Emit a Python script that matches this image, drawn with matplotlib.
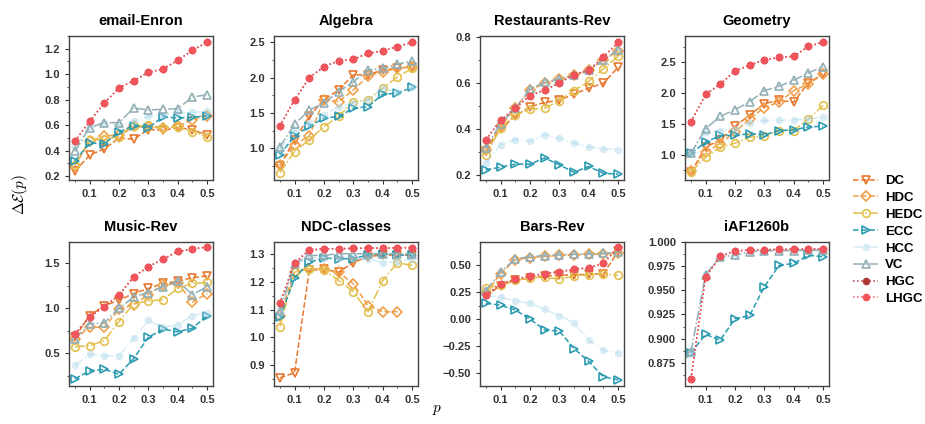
import numpy as np
import matplotlib
matplotlib.use("Agg")
import matplotlib.pyplot as plt
from matplotlib.ticker import AutoMinorLocator, MultipleLocator

plt.rcParams['font.family'] = ['Liberation Sans', 'DejaVu Sans']
plt.rcParams['mathtext.fontset'] = 'cm'

p = [0.05, 0.1, 0.15, 0.2, 0.25, 0.3, 0.35, 0.4, 0.45, 0.5]
nan = np.nan

methods = ['DC', 'HDC', 'HEDC', 'ECC', 'HCC', 'VC', 'HGC', 'LHGC']
titles = ['email-Enron', 'Algebra', 'Restaurants-Rev', 'Geometry',
          'Music-Rev', 'NDC-classes', 'Bars-Rev', 'iAF1260b']

# values, one dict per network
enron = {
    'DC':   [0.24, 0.365, 0.414, 0.50, 0.49, 0.566, 0.56, 0.58, 0.566, 0.52],
    'HDC':  [0.28, 0.474, 0.513, 0.526, 0.59, 0.584, 0.58, 0.59, 0.644, 0.675],
    'HEDC': [0.29, 0.48, 0.49, 0.51, 0.59, 0.60, 0.58, 0.586, 0.55, 0.51],
    'ECC':  [0.32, 0.46, 0.455, 0.547, 0.597, 0.58, 0.665, 0.657, 0.662, 0.675],
    'HCC':  [0.435, 0.59, 0.62, 0.60, 0.63, 0.67, 0.68, 0.70, 0.70, 0.71],
    'VC':   [0.396, 0.58, 0.62, 0.62, 0.735, 0.72, 0.725, 0.73, 0.82, 0.84],
    'LHGC': [0.474, 0.63, 0.774, 0.892, 0.949, 1.015, 1.041, 1.109, 1.187, 1.252],
}
algebra = {
    'DC':   [0.755, 1.12, 1.45, 1.69, 1.825, 2.04, 2.04, 2.11, 2.13, 2.156],
    'HDC':  [0.764, 1.05, 1.175, 1.684, 1.66, 1.825, 2.02, 2.085, 2.13, 2.156],
    'HEDC': [0.655, 0.953, 1.12, 1.306, 1.45, 1.66, 1.684, 1.85, 2.01, 2.13],
    'ECC':  [0.906, 1.175, 1.31, 1.425, 1.45, 1.566, 1.59, 1.764, 1.78, 1.863],
    'HCC':  [0.976, 1.26, 1.354, 1.47, 1.59, 1.64, 1.684, 1.85, 1.80, 1.863],
    'VC':   [1.02, 1.34, 1.54, 1.64, 1.80, 1.94, 2.11, 2.13, 2.19, 2.24],
    'LHGC': [1.316, 1.684, 2.0, 2.156, 2.236, 2.26, 2.344, 2.38, 2.44, 2.5],
}
restaurants = {
    'DC':   [0.306, 0.40, 0.457, 0.497, 0.516, 0.526, 0.553, 0.579, 0.60, 0.67],
    'HDC':  [0.31, 0.413, 0.491, 0.571, 0.60, 0.62, 0.634, 0.656, 0.70, 0.74],
    'HEDC': [0.285, 0.406, 0.462, 0.487, 0.491, 0.524, 0.568, 0.609, 0.663, 0.718],
    'ECC':  [0.222, 0.234, 0.247, 0.247, 0.274, 0.244, 0.212, 0.237, 0.207, 0.204],
    'HCC':  [0.251, 0.332, 0.354, 0.347, 0.376, 0.359, 0.34, 0.322, 0.315, 0.31],
    'VC':   [0.318, 0.424, 0.491, 0.575, 0.604, 0.619, 0.634, 0.659, 0.70, 0.747],
    'LHGC': [0.354, 0.438, 0.491, 0.546, 0.571, 0.60, 0.638, 0.656, 0.715, 0.778],
}
geometry = {
    'DC':   [0.71, 1.12, 1.24, 1.46, 1.64, 1.83, 1.88, 1.856, 2.17, 2.31],
    'HDC':  [0.727, 1.04, 1.175, 1.366, 1.58, 1.764, 1.856, 2.04, 2.146, 2.31],
    'HEDC': [0.71, 0.956, 1.12, 1.185, 1.284, 1.295, 1.39, 1.39, 1.58, 1.80],
    'ECC':  [1.02, 1.20, 1.31, 1.31, 1.34, 1.32, 1.39, 1.40, 1.45, 1.46],
    'HCC':  [1.04, 1.366, 1.39, 1.42, 1.51, 1.556, 1.556, 1.567, 1.58, 1.61],
    'VC':   [1.02, 1.42, 1.62, 1.73, 1.856, 2.04, 2.11, 2.21, 2.33, 2.43],
    'LHGC': [1.53, 1.98, 2.146, 2.36, 2.456, 2.54, 2.58, 2.60, 2.76, 2.83],
}
music = {
    'DC':   [0.68, 0.92, 1.03, 1.09, 1.164, 1.22, 1.276, 1.30, 1.34, 1.36],
    'HDC':  [0.66, 0.79, 0.79, 0.99, 1.04, 1.153, 1.257, 1.276, 1.07, 1.164],
    'HEDC': [0.575, 0.586, 0.642, 0.854, 1.05, 1.08, 1.097, 1.22, 1.276, 1.287],
    'ECC':  [0.22, 0.306, 0.325, 0.27, 0.444, 0.68, 0.77, 0.74, 0.78, 0.92],
    'HCC':  [0.37, 0.493, 0.474, 0.474, 0.668, 0.866, 0.79, 0.817, 0.92, 0.95],
    'VC':   [0.66, 0.83, 0.84, 1.0, 1.127, 1.175, 1.24, 1.30, 1.153, 1.24],
    'LHGC': [0.716, 0.903, 1.02, 1.145, 1.35, 1.46, 1.545, 1.63, 1.657, 1.68],
}
ndc = {
    'DC':   [0.855, 0.874, 1.24, 1.244, 1.234, 1.268, 1.29, 1.295, 1.295, 1.295],
    'HDC':  [1.078, 1.236, 1.246, 1.244, 1.234, 1.192, 1.114, 1.092, 1.092, nan],
    'HEDC': [1.039, 1.234, 1.246, 1.242, 1.204, 1.164, 1.092, 1.204, 1.268, 1.258],
    'ECC':  [1.072, 1.212, 1.27, 1.284, 1.282, 1.282, 1.296, 1.30, 1.296, 1.294],
    'HCC':  [1.09, 1.258, 1.288, 1.284, 1.288, 1.284, 1.28, 1.268, 1.272, 1.282],
    'VC':   [1.096, 1.264, 1.294, 1.294, 1.30, 1.30, 1.30, 1.30, 1.30, 1.30],
    'LHGC': [1.122, 1.268, 1.312, 1.318, 1.318, 1.319, 1.32, 1.32, 1.321, 1.322],
}
bars = {
    'DC':   [0.216, 0.31, 0.358, 0.38, 0.40, 0.405, 0.41, 0.415, 0.42, 0.626],
    'HDC':  [0.24, 0.42, 0.55, 0.57, 0.58, 0.59, 0.595, 0.60, 0.605, 0.61],
    'HEDC': [0.285, 0.317, 0.358, 0.38, 0.39, 0.368, 0.40, 0.41, 0.42, 0.405],
    'ECC':  [0.147, 0.128, 0.084, 0.0, -0.10, -0.112, -0.273, -0.393, -0.535, -0.563],
    'HCC':  [0.216, 0.20, 0.169, 0.147, 0.09, 0.033, -0.036, -0.194, -0.289, -0.314],
    'VC':   [0.263, 0.437, 0.557, 0.579, 0.588, 0.595, 0.60, 0.604, 0.61, 0.617],
    'LHGC': [0.222, 0.327, 0.368, 0.40, 0.42, 0.437, 0.462, 0.475, 0.516, 0.664],
}
iaf = {
    'DC':   [nan] * 10,
    'HDC':  [nan] * 10,
    'HEDC': [nan] * 10,
    'ECC':  [0.8854, 0.9044, 0.8985, 0.9206, 0.924, 0.9537, 0.9758, 0.9779, 0.9862, 0.9848],
    'HCC':  [0.886, 0.9665, 0.984, 0.986, 0.9897, 0.9907, 0.991, 0.991, 0.9912, 0.9912],
    'VC':   [0.886, 0.966, 0.9845, 0.9865, 0.99, 0.991, 0.9912, 0.9912, 0.9914, 0.9914],
    'LHGC': [0.8584, 0.964, 0.985, 0.9907, 0.9917, 0.992, 0.9924, 0.9924, 0.993, 0.993],
}
panels = [enron, algebra, restaurants, geometry, music, ndc, bars, iaf]
for d in panels:
    d['HGC'] = d['LHGC']  # HGC overlaps LHGC everywhere

ylims = [(0.17, 1.30), (0.55, 2.59), (0.178, 0.806), (0.585, 2.93),
         (0.14, 1.735), (0.826, 1.342), (-0.62, 0.714), (0.851, 1.0)]
ysteps = [0.2, 0.5, 0.2, 0.5, 0.5, 0.1, 0.25, 0.025]

styles = {
    'DC':   dict(color='#E8772E', ls='--', marker='v', mfc='none'),
    'HDC':  dict(color='#F0A04B', ls='--', marker='D', mfc='none', ms=4.6),
    'HEDC': dict(color='#E3C04E', ls='-.', marker='o', mfc='none'),
    'ECC':  dict(color='#2A9BB0', ls='--', marker='>', mfc='none'),
    'HCC':  dict(color='#A9D6EA', ls='-.', marker='o', mec='none', alpha=0.45),
    'VC':   dict(color='#93AFB6', ls='-.', marker='^', mfc='none'),
    'HGC':  dict(color='#B03A3A', ls=':', marker='o', mec='none'),
    'LHGC': dict(color='#F2545B', ls=':', marker='o', mec='none'),
}

fig = plt.figure(figsize=(9.25, 4.24), dpi=100)
W, H = 925.0, 424.0
lefts = [69, 274, 480, 685]
tops = [36, 242]
aw, ah = 144, 144

handles = []
for i, d in enumerate(panels):
    r, c = divmod(i, 4)
    ax = fig.add_axes([lefts[c] / W, 1 - (tops[r] + ah) / H, aw / W, ah / H])
    for m in methods:
        st = dict(styles[m])
        ms = st.pop('ms', 5.5)
        ln, = ax.plot(p, d[m], lw=1.1, ms=ms, mew=1.2, label=m, **st)
        if i == 0:
            handles.append(ln)
    ax.set_title(titles[i], fontsize=10.5, fontweight='bold', pad=8)
    ax.set_xlim(0.03, 0.52)
    ax.set_ylim(*ylims[i])
    ax.xaxis.set_major_locator(MultipleLocator(0.1))
    ax.yaxis.set_major_locator(MultipleLocator(ysteps[i]))
    ax.xaxis.set_minor_locator(AutoMinorLocator(2))
    ax.yaxis.set_minor_locator(AutoMinorLocator(2))
    ax.tick_params(which='major', length=3, width=0.8, labelsize=8, colors='#333333')
    ax.tick_params(which='minor', length=1.5, width=0.6, colors='#333333')
    for lab in ax.get_xticklabels() + ax.get_yticklabels():
        lab.set_fontweight('bold')
    for s in ax.spines.values():
        s.set_color('#444444')
        s.set_linewidth(1.0)

fig.text(20 / W, 1 - 195 / H, r'$\Delta\mathcal{E}(p)$', rotation=90,
         ha='center', va='center', fontsize=11)
fig.text(437 / W, 1 - 410 / H, r'$p$', ha='center', va='center', fontsize=11)

fig.legend(handles=handles, labels=methods, loc='center left',
           bbox_to_anchor=(848 / W, 1 - 240 / H), frameon=False,
           prop={'size': 9.5, 'weight': 'bold'}, handlelength=1.9,
           handletextpad=0.5, labelspacing=0.35, borderaxespad=0)

fig.savefig('out.png', dpi=100)
